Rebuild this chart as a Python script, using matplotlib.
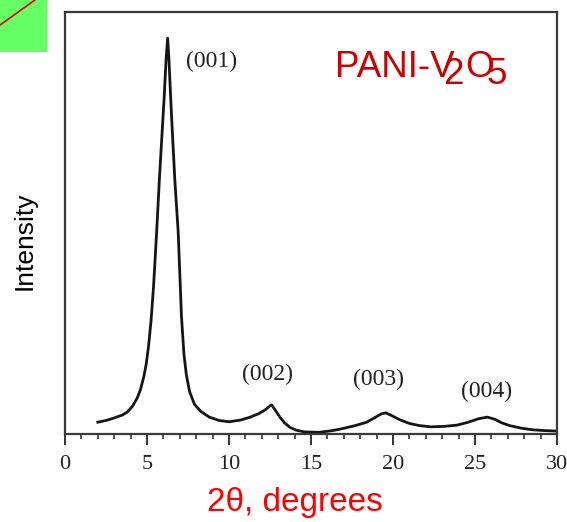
import matplotlib
matplotlib.use('Agg')
import matplotlib.pyplot as plt
from matplotlib.patches import Rectangle
from matplotlib.lines import Line2D
import numpy as np

# XRD pattern, 2theta (deg) vs intensity (arb. units)
two_theta = [2.0, 2.5, 3.0, 3.5, 3.8, 4.1, 4.4, 4.6, 4.8, 4.95, 5.1, 5.25, 5.4,
             5.59, 5.75, 5.93, 6.05, 6.16, 6.26, 6.34, 6.44, 6.54, 6.7, 6.9, 7.0,
             7.1, 7.25, 7.4, 7.6, 7.9, 8.3, 8.8, 9.4, 10.0, 10.7, 11.3, 11.8, 12.2,
             12.45, 12.6, 12.8, 13.1, 13.4, 13.7, 14.1, 14.6, 15.5, 16.3, 16.95,
             17.7, 18.4, 18.9, 19.3, 19.55, 19.9, 20.4, 21.0, 21.6, 22.3, 23.1,
             23.9, 24.6, 25.2, 25.75, 26.2, 26.6, 27.1, 27.8, 28.5, 29.3, 30.0]
intensity = [2.8, 3.2, 3.8, 4.5, 5.2, 6.5, 8.5, 10.5, 13.5, 16.5, 21.0, 27.0, 35.0,
             48.0, 60.0, 72.0, 80.0, 88.6, 93.8, 88.6, 80.0, 72.0, 60.0, 48.0, 38.0,
             28.0, 19.0, 14.0, 10.0, 7.0, 5.3, 4.0, 3.2, 2.9, 3.3, 4.0, 4.8, 5.7,
             6.5, 6.9, 5.8, 4.0, 2.6, 1.6, 0.9, 0.5, 0.4, 0.8, 1.3,
             2.0, 2.8, 3.9, 4.8, 5.0, 4.4, 3.4, 2.5, 2.0, 1.7, 1.8,
             2.1, 2.8, 3.6, 4.0, 3.5, 2.7, 2.0, 1.4, 1.0, 0.8, 0.7]

peak_labels = ['(001)', '(002)', '(003)', '(004)']
x_ticks = [0, 5, 10, 15, 20, 25, 30]

W, H = 567, 522


def px(x, y):
    # pixel position (from top-left) -> figure fraction
    return x / W, 1 - y / H


fig = plt.figure(figsize=(W / 100, H / 100), dpi=100)
ax = fig.add_axes([65 / W, (H - 434) / H, (557 - 65) / W, (434 - 12) / H])

ax.plot(two_theta, intensity, color='#151515', lw=2.0, solid_joinstyle='round')
ax.set_xlim(0, 30)
ax.set_ylim(0, 100)

ax.set_xticks(x_ticks)
ax.set_xticks(np.arange(0, 31, 1), minor=True)
ax.set_xticklabels([str(t) for t in x_ticks], family='Liberation Serif', fontsize=16, color='#222222')
ax.tick_params(axis='x', which='major', direction='out', length=8, width=1.4, color='#333333', pad=7)
ax.tick_params(axis='x', which='minor', direction='out', length=3.8, width=1.2, color='#333333')
ax.set_yticks([])
for s in ax.spines.values():
    s.set_color('#3a3a3a')
    s.set_linewidth(1.6)

# reflection labels
label_pos = [(8.96, 88.2), (12.32, 14.2), (19.09, 13.0), (25.73, 10.2)]
for lab, (lx, ly) in zip(peak_labels, label_pos):
    ax.text(lx, ly, lab, ha='center', va='center', family='Liberation Serif',
            fontsize=17, color='#222222')

# sample name, subscripts drawn as full-size digits shifted down
red_dark = '#cc0000'
name_font = dict(family='Liberation Sans', fontsize=26.5, color=red_dark, va='baseline', ha='left')
fig.text(*px(335, 77), 'PANI-V', **name_font)
fig.text(*px(443, 84), '2', **name_font)
fig.text(*px(465, 77), 'O', **name_font)
fig.text(*px(487, 84), '5', **name_font)

# axis titles
fig.text(*px(295, 503), '2\u03b8, degrees', family='Liberation Sans', fontsize=24,
         color='#ff0000', ha='center', va='center')
fig.text(*px(25, 241), 'Intensity', family='Liberation Sans', fontsize=19,
         color='black', ha='center', va='center', rotation=90)

# green marker box in the corner
fig.patches.append(Rectangle(px(0, 52), 47 / W, 52 / H, transform=fig.transFigure,
                             facecolor='#66ff66', edgecolor='none'))
x0, y0 = px(0, 25)
x1, y1 = px(35, 0)
fig.lines.append(Line2D([x0, x1], [y0, y1], transform=fig.transFigure, color='#e00000', lw=1.2))

fig.savefig('out.png', dpi=100)
